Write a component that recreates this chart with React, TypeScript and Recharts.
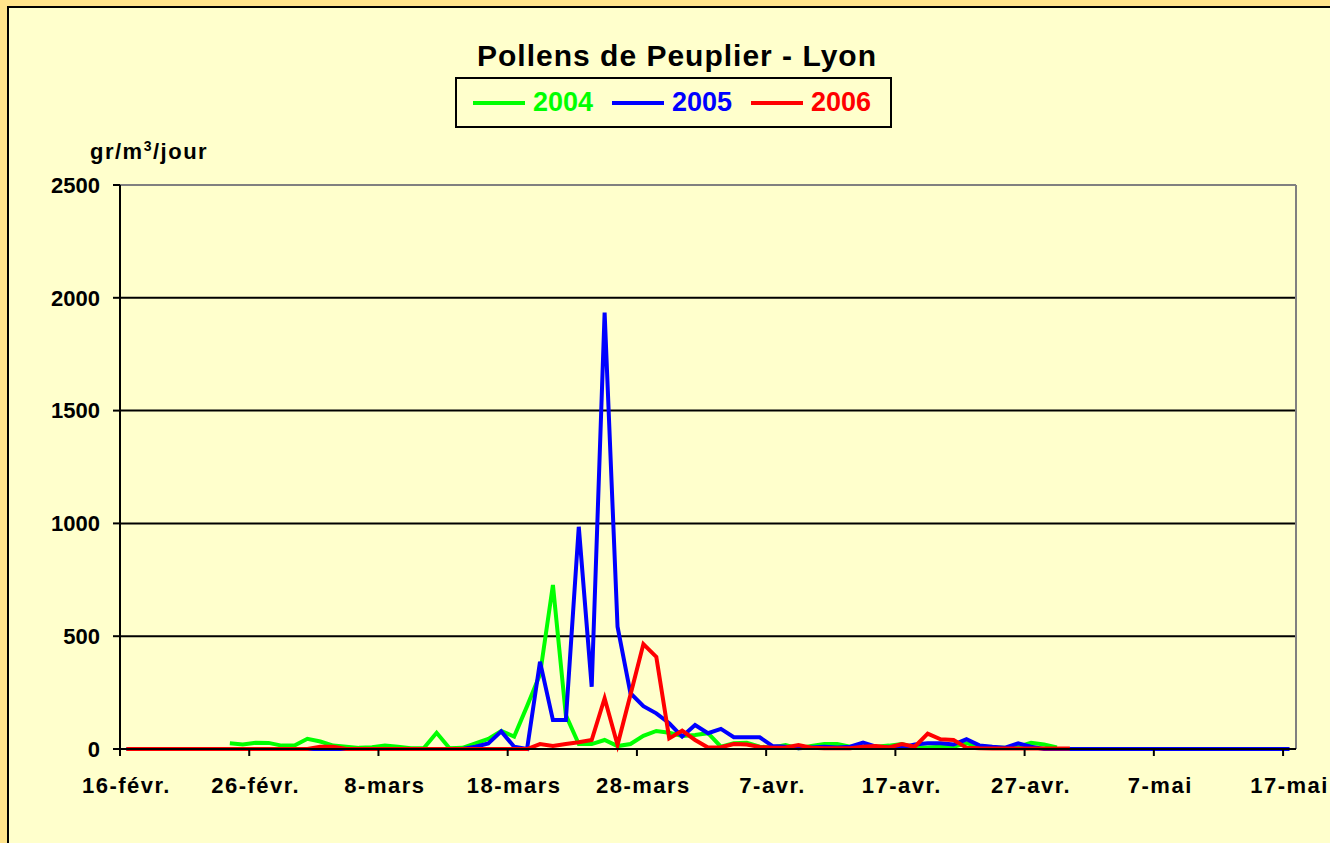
import { CartesianGrid, Legend, Line, LineChart, ReferenceLine, XAxis, YAxis } from "recharts"

const FONT = "Arial, 'Liberation Sans', sans-serif"

// 16 Feb -> 17 May, one point per day
const MONTHS = [
  { name: "févr.", len: 28 },
  { name: "mars", len: 31 },
  { name: "avr.", len: 30 },
  { name: "mai", len: 31 },
]
const START_DAY = 16
const DAY_COUNT = 91

const yTicks = [0, 500, 1000, 1500, 2000, 2500]
const gridValues = [500, 1000, 1500, 2000]
const tickDays = [0, 10, 20, 30, 40, 50, 60, 70, 80, 90]

const pollen2004 = [
  null, null, null, null, null, null, null, null, 25, 20,
  28, 27, 15, 15, 45, 33, 15, 10, 5, 8,
  15, 10, 3, 3, 72, 3, 5, 25, 45, 80,
  55, 190, 330, 727, 150, 22, 22, 40, 13, 22,
  58, 80, 72, 58, 62, 70, 10, 25, 28, 10,
  7, 18, 3, 13, 22, 22, 10, 10, 10, 15,
  22, 7, 7, 10, 10, 25, 13, 7, 5, 10,
  28, 20, 7, null, null, null, null, null, null, null,
  null, null, null, null, null, null, null, null, null, null,
  null,
]

const pollen2005 = [
  0, 0, 0, 0, 0, 0, 0, 0, 0, 0,
  0, 0, 0, 0, 0, 0, 0, 0, 0, 0,
  0, 0, 0, 0, 0, 0, 0, 10, 25, 78,
  10, 0, 387, 128, 128, 985, 276, 1934, 542, 247,
  190, 158, 114, 55, 106, 70, 89, 52, 52, 52,
  13, 10, 3, 7, 10, 7, 10, 28, 10, 7,
  7, 20, 25, 25, 20, 43, 16, 10, 6, 25,
  10, 0, 0, 0, 0, 0, 0, 0, 0, 0,
  0, 0, 0, 0, 0, 0, 0, 0, 0, 0,
  0,
]

const pollen2006 = [
  0, 0, 0, 0, 0, 0, 0, 0, 0, 0,
  0, 0, 0, 0, 0, 10, 10, 0, 0, 0,
  0, 0, 0, 0, 0, 0, 0, 0, 0, 0,
  0, 0, 22, 13, 22, 30, 40, 225, 18, 240,
  465, 408, 47, 81, 40, 7, 8, 22, 20, 9,
  6, 7, 18, 6, 3, 3, 3, 10, 13, 7,
  22, 10, 68, 43, 40, 6, 3, 2, 2, 2,
  2, 2, 2, 2, null, null, null, null, null, null,
  null, null, null, null, null, null, null, null, null, null,
  null,
]

function buildDayLabels(): string[] {
  const labels: string[] = []
  let m = 0
  let d = START_DAY
  for (let i = 0; i < DAY_COUNT; i++) {
    labels.push(`${d}-${MONTHS[m].name}`)
    d++
    if (d > MONTHS[m].len) {
      d = 1
      m++
    }
  }
  return labels
}

const dayLabels = buildDayLabels()

const data = dayLabels.map((label, i) => ({
  day: i,
  label,
  y2004: pollen2004[i],
  y2005: pollen2005[i],
  y2006: pollen2006[i],
}))

// plot box in page pixels
const PLOT_LEFT = 120
const PLOT_RIGHT = 1296
const PLOT_TOP = 185
const PLOT_BOTTOM = 749
const HALF_BAND = (PLOT_RIGHT - PLOT_LEFT) / DAY_COUNT / 2

const XTick = (props: any) => {
  const { x, y, payload } = props
  const label = dayLabels[Math.round(payload.value + 0.5)]
  return (
    <g>
      <line x1={x} x2={x} y1={y} y2={y + 7} stroke="#000" strokeWidth={2} />
      <text
        x={x + HALF_BAND}
        y={y + 44}
        textAnchor="middle"
        fontSize={22}
        fontWeight="bold"
        letterSpacing={1.5}
        fontFamily={FONT}
        fill="#000"
      >
        {label}
      </text>
    </g>
  )
}

const renderLegend = (props: any) => {
  const items = props.payload || []
  return (
    <div
      style={{
        boxSizing: "border-box",
        width: 437,
        height: 51,
        border: "2px solid #000",
        display: "flex",
        alignItems: "center",
        paddingLeft: 16,
        fontFamily: FONT,
      }}
    >
      {items.map((item: any) => (
        <div key={item.value} style={{ display: "flex", alignItems: "center", width: 146 }}>
          <div style={{ width: 52, height: 4, background: item.color }} />
          <span
            style={{
              marginLeft: 8,
              color: item.color,
              fontSize: 27,
              fontWeight: "bold",
              lineHeight: "27px",
            }}
          >
            {item.value}
          </span>
        </div>
      ))}
    </div>
  )
}

export default function App() {
  return (
    <div
      style={{
        position: "absolute",
        left: 0,
        top: 0,
        width: 1330,
        height: 843,
        overflow: "hidden",
        background: "#FFE48C",
        fontFamily: FONT,
      }}
    >
      <div
        style={{
          position: "absolute",
          left: 7,
          top: 6,
          width: 1400,
          height: 900,
          border: "2px solid #000",
          background: "#FFFFCC",
        }}
      />
      <div
        style={{
          position: "absolute",
          left: 677,
          top: 41,
          transform: "translateX(-50%)",
          whiteSpace: "nowrap",
          fontSize: 30,
          lineHeight: "30px",
          fontWeight: "bold",
          letterSpacing: 1,
          color: "#000",
        }}
      >
        Pollens de Peuplier - Lyon
      </div>
      <div
        style={{
          position: "absolute",
          left: 90,
          top: 141,
          whiteSpace: "nowrap",
          fontSize: 22,
          lineHeight: "22px",
          fontWeight: "bold",
          letterSpacing: 1.5,
          color: "#000",
        }}
      >
        gr/m<sup style={{ fontSize: 14, lineHeight: 0 }}>3</sup>/jour
      </div>
      <div style={{ position: "absolute", left: 0, top: 0 }}>
        <LineChart
          width={1330}
          height={843}
          data={data}
          margin={{ top: PLOT_TOP, right: 1330 - PLOT_RIGHT, bottom: 843 - PLOT_BOTTOM - 30, left: PLOT_LEFT - 70 }}
        >
          <CartesianGrid
            vertical={false}
            horizontalValues={gridValues}
            stroke="#000"
            strokeWidth={2}
            fill="none"
          />
          <XAxis
            dataKey="day"
            type="number"
            domain={[-0.5, DAY_COUNT - 0.5]}
            ticks={tickDays.map((d) => d - 0.5)}
            interval={0}
            height={30}
            tickSize={0}
            tickMargin={0}
            tickLine={false}
            axisLine={{ stroke: "#000", strokeWidth: 2 }}
            tick={<XTick />}
          />
          <YAxis
            type="number"
            domain={[0, 2500]}
            ticks={yTicks}
            width={70}
            tickSize={7}
            tickMargin={13}
            tickLine={{ stroke: "#000", strokeWidth: 2 }}
            axisLine={{ stroke: "#000", strokeWidth: 2 }}
            tick={{ fill: "#000", fontSize: 22, fontWeight: "bold", fontFamily: FONT }}
          />
          <ReferenceLine y={2500} stroke="#808080" strokeWidth={2} />
          <ReferenceLine x={DAY_COUNT - 0.5} stroke="#808080" strokeWidth={2} />
          <Legend
            layout="horizontal"
            verticalAlign="middle"
            align="center"
            content={renderLegend}
            wrapperStyle={{ left: 455, top: 77, width: 437, height: 51 }}
          />
          <Line
            name="2004"
            type="linear"
            dataKey="y2004"
            stroke="#00FF00"
            strokeWidth={4}
            dot={false}
            isAnimationActive={false}
          />
          <Line
            name="2005"
            type="linear"
            dataKey="y2005"
            stroke="#0000FF"
            strokeWidth={4}
            dot={false}
            isAnimationActive={false}
          />
          <Line
            name="2006"
            type="linear"
            dataKey="y2006"
            stroke="#FF0000"
            strokeWidth={4}
            dot={false}
            isAnimationActive={false}
          />
        </LineChart>
      </div>
    </div>
  )
}
